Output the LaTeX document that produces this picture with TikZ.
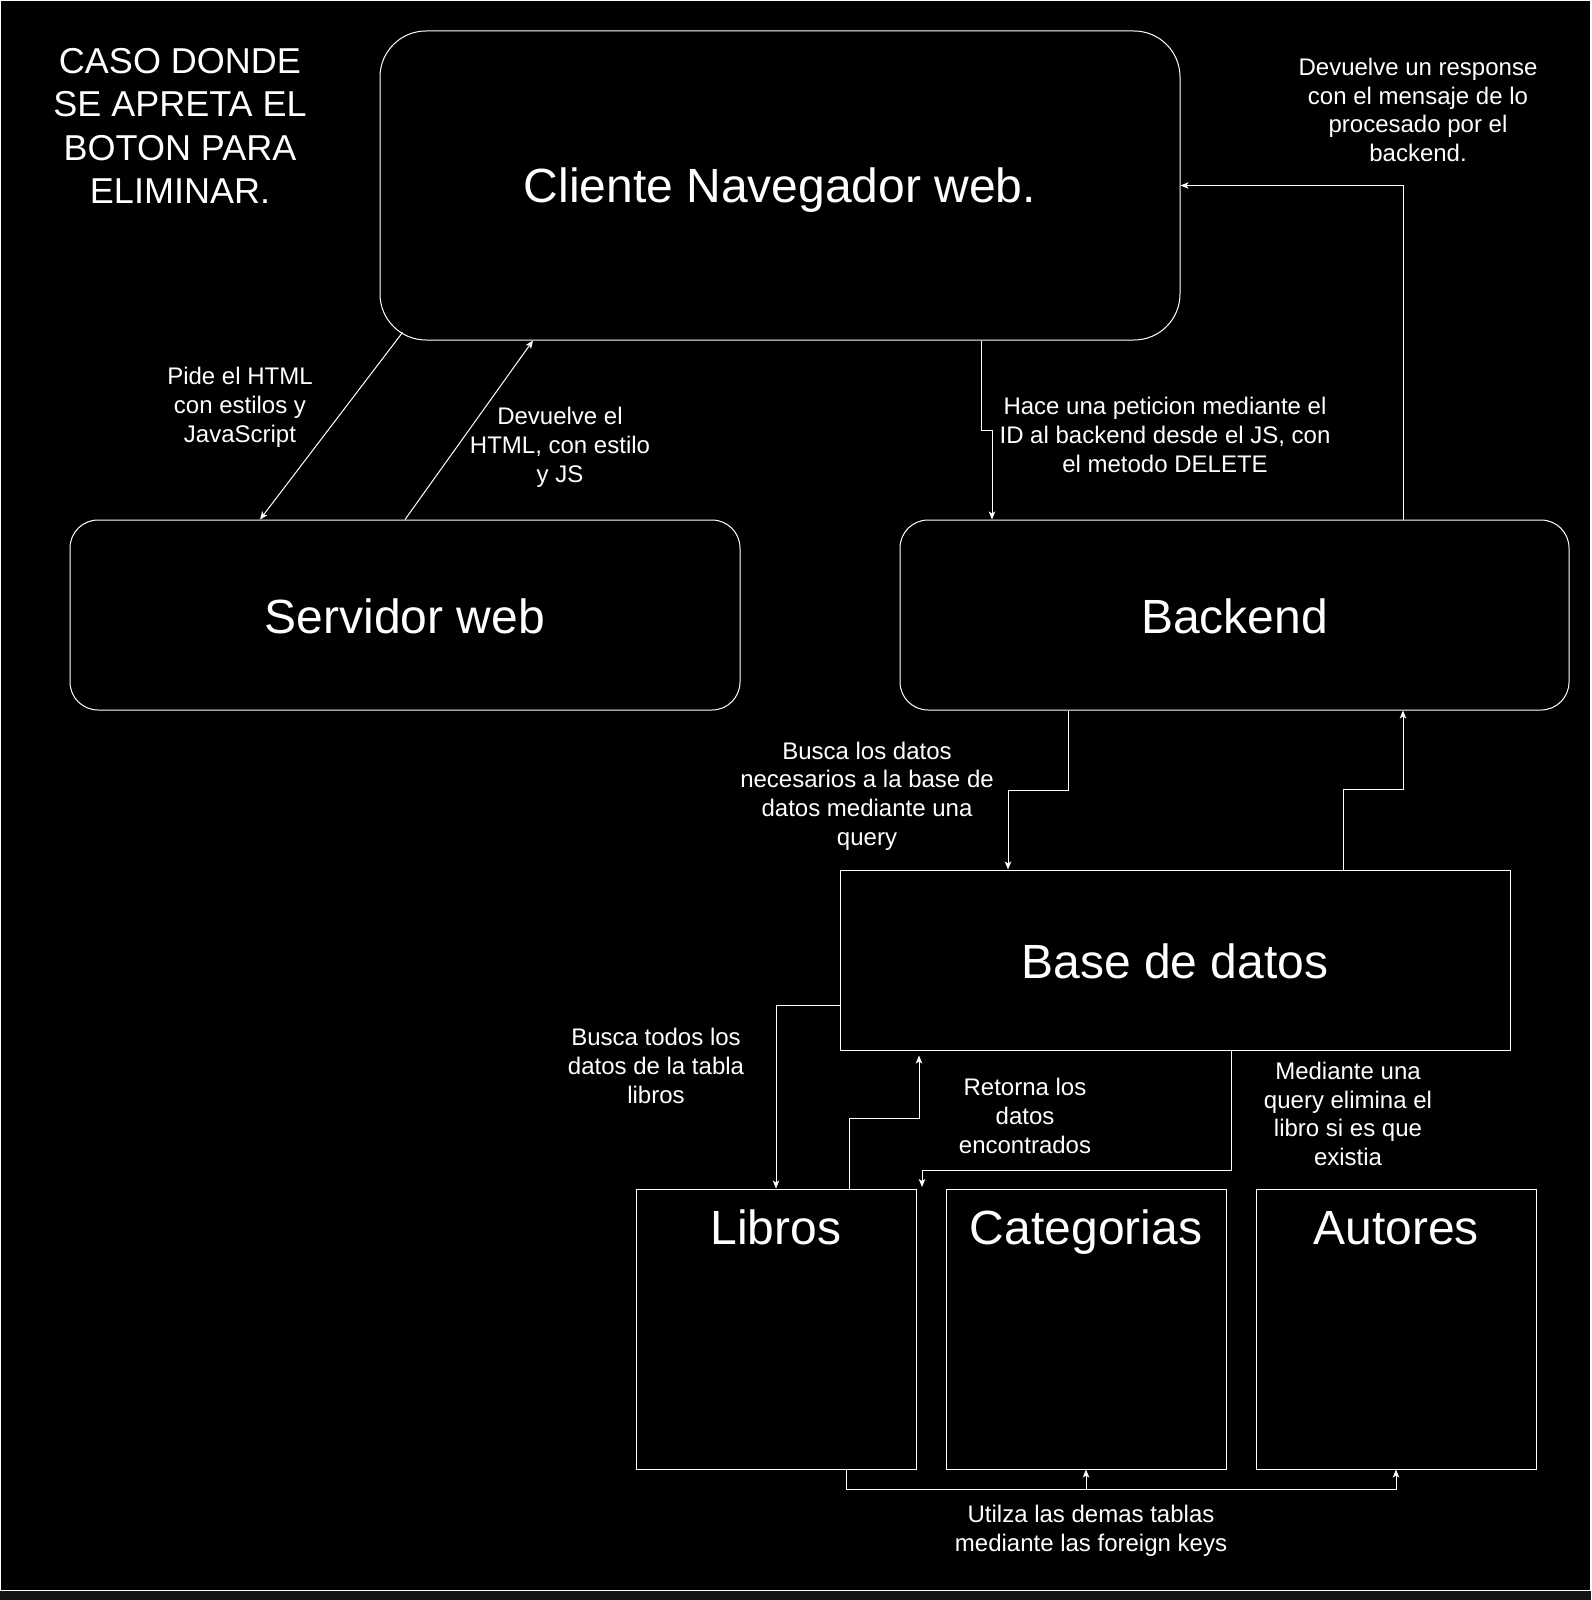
\documentclass[tikz,border=0pt]{standalone}
\usepackage{fontspec}
\setmainfont{Liberation Sans}
\usetikzlibrary{arrows.meta,calc}
\definecolor{bggray}{RGB}{20,20,20}
\tikzset{
  box/.style={draw=white, line width=1pt, fill=black, text=white, inner sep=0pt},
  rbox/.style={box, rounded corners=#1},
  big/.style={text=white, font=\fontsize{48}{57.6}\selectfont, inner sep=0pt},
  lbl/.style={text=white, align=center, font=\fontsize{24}{28.8}\selectfont, inner sep=0pt},
  ttl/.style={text=white, align=center, font=\fontsize{36}{43.2}\selectfont, inner sep=0pt},
  arr/.style={draw=white, line width=1pt, -{Stealth[length=8pt,width=6.5pt,inset=2pt]}},
  ln/.style={draw=white, line width=1pt}
}
\begin{document}
\begin{tikzpicture}[x=1pt,y=-1pt]
\useasboundingbox (0,0) rectangle (1591,1600);
\fill[bggray] (0,0) rectangle (1591,1600);
\draw[white, line width=1.2pt, fill=black] (0.6,0.6) rectangle (1590.4,1590.4);

% boxes
\node[rbox=46, minimum width=800, minimum height=309] (cli) at (780,185.5) {};
\node[big] (clit) at (780,190) {Cliente Navegador web.};
\node[rbox=28, minimum width=670, minimum height=190] (srv) at (405,615) {};
\node[big] (srvt) at (405,616) {Servidor web};
\node[rbox=28, minimum width=669, minimum height=190] (back) at (1234.5,615) {};
\node[big] (backt) at (1234.5,616) {Backend};
\node[box, minimum width=670, minimum height=180] (base) at (1175,960) {};
\node[big] (baset) at (1175,961) {Base de datos};
\node[box, minimum width=280, minimum height=280] (lib) at (776,1329) {};
\node[big, anchor=base] (libt) at (776,1244) {Libros};
\node[box, minimum width=280, minimum height=280] (cat) at (1086,1329) {};
\node[big, anchor=base] (catt) at (1086,1244) {Categorias};
\node[box, minimum width=280, minimum height=280] (aut) at (1396,1329) {};
\node[big, anchor=base] (autt) at (1396,1244) {Autores};

% labels
\node[ttl] (title) at (180,126) {CASO DONDE\\SE APRETA EL\\BOTON PARA\\ELIMINAR.};
\node[lbl] (l1) at (240,407) {Pide el HTML\\con estilos y\\JavaScript};
\node[lbl] (l2) at (560,447) {Devuelve el\\HTML, con estilo\\y JS};
\node[lbl] (l3) at (1165,435) {Hace una peticion mediante el\\ID al backend desde el JS, con\\el metodo DELETE\ };
\node[lbl] (l4) at (1418,110) {Devuelve un response\\con el mensaje de lo\\procesado por el\\backend.};
\node[lbl] (l5) at (867,796) {Busca los datos\\necesarios a la base de\\datos mediante una\\query};
\node[lbl] (l6) at (656,1066) {Busca todos los\\datos de la tabla\\libros};
\node[lbl] (l7) at (1025,1116) {Retorna los\\datos\\encontrados};
\node[lbl] (l8) at (1348,1114) {Mediante una\\query elimina el\\libro si es que\\existia};
\node[lbl] (l9) at (1091,1531) {Utilza las demas tablas\\mediante las foreign keys};

% connectors
\draw[arr] ([shift={(23,-8)}]cli.south west) -- ([xshift=-145]srv.north);
\draw[arr] (srv.north) -- ([xshift=-247]cli.south);
\draw[arr] ([xshift=201]cli.south) -- ++(0,90) -| ([xshift=-242.5]back.north);
\draw[arr] ([xshift=168.5]back.north) |- (cli.east);
\draw[arr] ([xshift=-166.5]back.south) -- ++(0,80) -| ([xshift=-167]base.north);
\draw[arr] ([xshift=168]base.north) -- ++(0,-80) -| ([xshift=168.5]back.south);
\draw[arr] ([yshift=-45]base.west) -| (lib.north);
\draw[arr] ([xshift=73]lib.north) -- ++(0,-70) -| ([xshift=-256,yshift=-5]base.south);
\coordinate (delend) at (922,1187);
\draw[arr] ([xshift=56]base.south) -- ++(0,120) -| (delend);
\draw[arr] ([xshift=70]lib.south) -- ++(0,20) -| (cat.south);
\draw[arr] ([xshift=70]lib.south) -- ++(0,20) -| (aut.south);
\end{tikzpicture}
\end{document}
